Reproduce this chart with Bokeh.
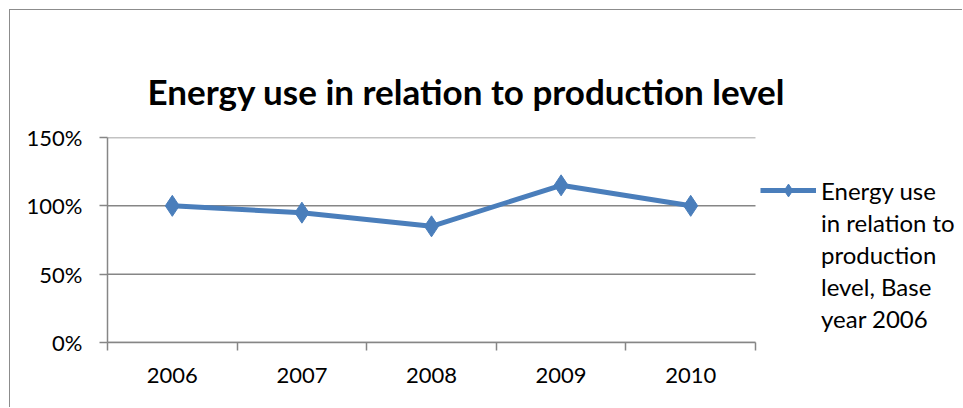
from bokeh.plotting import figure
from bokeh.models import (Range1d, FixedTicker, NumeralTickFormatter, Legend, LegendItem, Title)
from bokeh.embed import file_html
from bokeh.resources import INLINE

years = ["2006", "2007", "2008", "2009", "2010"]
values = [1.00, 0.95, 0.85, 1.15, 1.00]
y_ticks = [0, 0.5, 1.0, 1.5]
title_text = "Energy use in relation to production level"
series_lines = ["Energy use", "in relation to", "production", "level, Base", "year 2006"]

FONT = "Lato"
BLUE = "#4A7EBB"
GRAY = "#868686"

n = len(years)
xs = [i + 0.5 for i in range(n)]

FRAME_W = 856          # frame runs to the right edge so the legend is not clipped
CAT_W = 648            # width actually used by the categories
p = figure(width=953, height=398, output_backend="svg", toolbar_location=None,
           x_range=Range1d(0, n * FRAME_W / CAT_W), y_range=Range1d(0, 1.5),
           min_border_left=97, min_border_right=0, min_border_top=127, min_border_bottom=66)
p.styles = {"margin-left": "9px", "margin-top": "9px",
            "border-left": "1px solid #8c8c8c", "border-top": "1px solid #8c8c8c"}
p.outline_line_color = None
p.background_fill_color = "white"
p.border_fill_color = "white"

# horizontal gridlines limited to the category area
p.xgrid.grid_line_color = None
p.ygrid.grid_line_color = None
p.segment(x0=[0] * len(y_ticks), y0=y_ticks, x1=[n] * len(y_ticks), y1=y_ticks,
          line_color=GRAY, line_width=1.5)

line = p.line(xs, values, line_color=BLUE, line_width=5)
pts = p.scatter(xs, values, marker="diamond", size=21, fill_color=BLUE, line_color=BLUE)

# axes
p.xaxis.bounds = (0, n)
p.xaxis.ticker = FixedTicker(ticks=xs, minor_ticks=list(range(n + 1)))
p.xaxis.major_label_overrides = {x: y for x, y in zip(xs, years)}
p.xaxis.major_tick_line_color = None
p.xaxis.minor_tick_in = 0
p.xaxis.minor_tick_out = 8
p.xaxis.minor_tick_line_color = GRAY
p.xaxis.minor_tick_line_width = 1.5
p.xaxis.axis_line_color = GRAY
p.xaxis.axis_line_width = 1.5
p.xaxis.major_label_standoff = 17
p.xaxis.major_label_text_font = FONT
p.xaxis.major_label_text_font_size = "22px"
p.xaxis.major_label_text_color = "black"

p.yaxis.ticker = FixedTicker(ticks=y_ticks, minor_ticks=[])
p.yaxis.formatter = NumeralTickFormatter(format="0%")
p.yaxis.major_tick_in = 0
p.yaxis.major_tick_out = 8
p.yaxis.major_tick_line_color = GRAY
p.yaxis.major_tick_line_width = 1.5
p.yaxis.axis_line_color = GRAY
p.yaxis.axis_line_width = 1.5
p.yaxis.major_label_standoff = 17
p.yaxis.major_label_text_font = FONT
p.yaxis.major_label_text_font_size = "22px"
p.yaxis.major_label_text_color = "black"

t = Title(text=title_text, text_font=FONT, text_font_size="35px", text_font_style="bold",
          text_color="black", align="left", offset=40, standoff=51)
p.add_layout(t, "above")

items = [LegendItem(label=series_lines[0], renderers=[line, pts])]
items += [LegendItem(label=s, renderers=[]) for s in series_lines[1:]]
legend = Legend(items=items, location=(653, 8), glyph_width=56, glyph_height=32,
                spacing=0, label_text_font=FONT, label_text_font_size="24px",
                label_text_color="black",
                background_fill_alpha=0, border_line_color=None, padding=0, margin=0,
                label_standoff=5)
p.add_layout(legend, "center")

open("out.html", "w").write(file_html(p, INLINE))
